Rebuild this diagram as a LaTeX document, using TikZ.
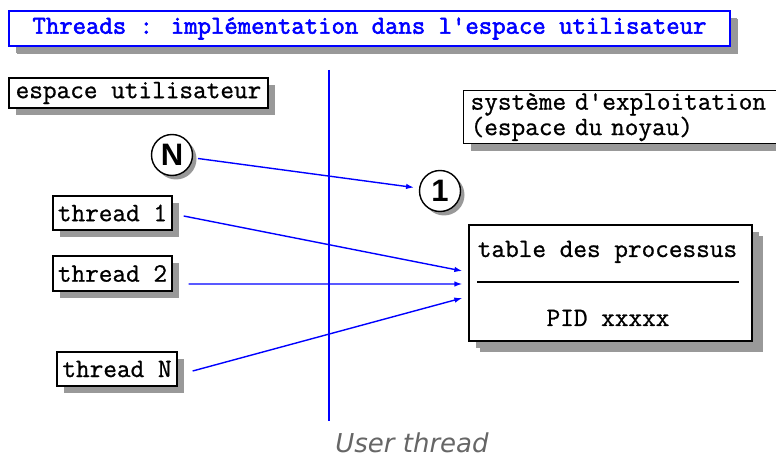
\documentclass[tikz,border=0pt]{standalone}
\usepackage{fontspec}
\usetikzlibrary{shadows,arrows.meta,calc}
\newfontfamily\monofont[FakeBold=0.9]{Latin Modern Mono}
\newfontfamily\headfont[FakeBold=2.2]{Latin Modern Mono}
\newfontfamily\capfont{DejaVu Sans}
\newfontfamily\circfont{Liberation Sans}

\begin{document}
\begin{tikzpicture}[x=1bp,y=-1bp,
  txt/.style={font=\monofont\fontsize{26.5bp}{21bp}\selectfont},
  shadowed/.style={drop shadow={shadow xshift=#1, shadow yshift=-#1, fill=black!40, opacity=1}},
  labelbox/.style={txt, draw=black, line width=1.3bp, fill=white, inner sep=0, shadowed=7bp},
  numcirc/.style={circle, draw=black, line width=1.4bp, fill=white, minimum size=41bp, inner sep=0,
    font=\circfont\bfseries\fontsize{31bp}{31bp}\selectfont, shadowed=4bp},
  link/.style={draw=blue, line width=1.4bp, -{Latex[length=8bp,width=5.5bp]}},
]
\useasboundingbox[fill=white] (0,0) rectangle (776,457);

% title banner
\node[labelbox, draw=blue, line width=1.8bp, text=blue, minimum width=721bp, minimum height=35bp,
  font=\headfont\fontsize{26bp}{21bp}\selectfont, shadowed=8bp] (title) at (369.5,28.5)
  {Threads : implémentation dans l'espace utilisateur};

% the two address spaces
\node[labelbox, minimum width=259bp, minimum height=30bp] (user) at (138.5,93) {espace utilisateur};
\node[labelbox, anchor=north west, align=left, text width=316bp, inner xsep=7bp, minimum height=53bp]
  (kernel) at (463,90) {système d'exploitation\\(espace du noyau)};

% boundary between user and kernel space
\coordinate (top) at (329,70);
\coordinate (bottom) at (329,421);
\draw[blue, line width=2bp] (top) -- (bottom);

% N user threads mapped to one kernel entity
\node[numcirc] (N) at (172,155) {N};
\node[numcirc] (one) at (440,191) {1};
\draw[link, shorten <=5bp, shorten >=5bp] (N) -- (one);

\node[labelbox, minimum width=119bp, minimum height=34bp] (t1) at (112.5,213) {thread 1};
\node[labelbox, minimum width=119bp, minimum height=35bp] (t2) at (112.5,273.5) {thread 2};
\node[labelbox, minimum width=120bp, minimum height=34bp] (tN) at (117,369) {thread N};

% process table
\node[labelbox, minimum width=283bp, minimum height=116bp, shadowed=11bp] (ptable) at (610.5,283) {};
\node[txt, anchor=base] (ptitle) at (607.5,257) {table des processus};
\node[txt, anchor=base] (pid) at (608,326) {PID xxxxx};
\draw[black, line width=1.3bp] ($(ptable.west)+(9,-1)$) -- ($(ptable.east)+(-14,-1)$);

\draw[link] ([xshift=11bp,yshift=-3bp]t1.east) -- ([xshift=-6bp,yshift=12bp]ptable.west);
\draw[link] ([xshift=16bp,yshift=-10.5bp]t2.east) -- ([xshift=-6bp,yshift=-1bp]ptable.west);
\draw[link] ([xshift=15bp,yshift=-2bp]tN.east) -- ([xshift=-6bp,yshift=-15bp]ptable.west);

% caption
\node[anchor=base, inner sep=0, font=\capfont\itshape\fontsize{26bp}{26bp}\selectfont, text=black!60] (cap)
  at (412,452) {User thread};
\end{tikzpicture}
\end{document}
